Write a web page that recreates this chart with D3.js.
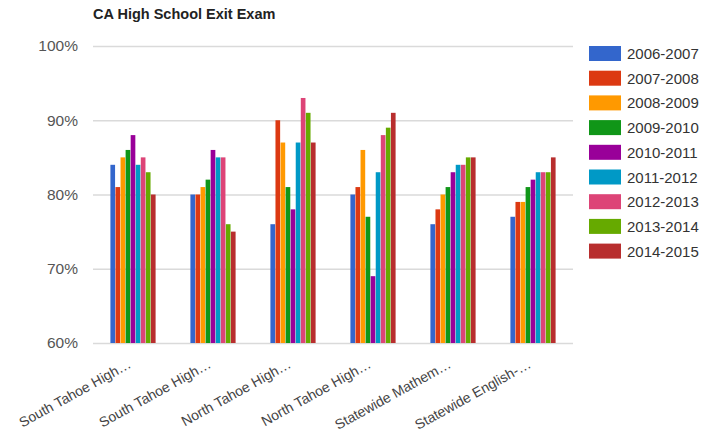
<!DOCTYPE html>
<html>
<head>
<meta charset="utf-8">
<script src="https://cdn.jsdelivr.net/npm/d3@7"></script>
<style>
  body { margin: 0; background: #fff; }
  text { font-family: Arial, "Liberation Sans", sans-serif; }
</style>
</head>
<body>
<div id="chart"></div>
<script>

var categories = ["South Tahoe High\u2026", "South Tahoe High\u2026", "North Tahoe High\u2026",
                  "North Tahoe High\u2026", "Statewide Mathem\u2026", "Statewide English-\u2026"];
var years = ["2006-2007", "2007-2008", "2008-2009", "2009-2010", "2010-2011",
             "2011-2012", "2012-2013", "2013-2014", "2014-2015"];
var colours = ["#3366cc", "#dc3912", "#ff9900", "#109618", "#990099",
               "#0099c6", "#dd4477", "#66aa00", "#b82e2e"];

// one row per category, one value per year (percent)
var values = [
    [84, 81, 85, 86, 88, 84, 85, 83, 80],
    [80, 80, 81, 82, 86, 85, 85, 76, 75],
    [76, 90, 87, 81, 78, 87, 93, 91, 87],
    [80, 81, 86, 77, 69, 83, 88, 89, 91],
    [76, 78, 80, 81, 83, 84, 84, 85, 85],
    [77, 79, 79, 81, 82, 83, 83, 83, 85]
];
var yTicks = [60, 70, 80, 90, 100];

var svgWidth = 708, svgHeight = 433;
var margin = {top: 46, right: 135, bottom: 90, left: 93};
var width = svgWidth - margin.left - margin.right;
var height = svgHeight - margin.top - margin.bottom;

var svg = d3.select("#chart").append("svg")
    .attr("width", svgWidth)
    .attr("height", svgHeight);

svg.append("text")
    .attr("x", 93)
    .attr("y", 19)
    .attr("font-size", "14.5px")
    .attr("font-weight", "bold")
    .attr("fill", "#222")
    .text("CA High School Exit Exam");

var plotArea = svg.append("g")
    .attr("transform", "translate(" + margin.left + "," + margin.top + ")");

var x0 = d3.scaleBand()
    .domain(d3.range(categories.length))
    .range([0, width])
    .paddingInner(0.425)
    .paddingOuter(0.2125);

var x1 = d3.scaleBand()
    .domain(d3.range(years.length))
    .range([0, x0.bandwidth()])
    .padding(0.08);

var yscale = d3.scaleLinear()
    .domain([60, 100])
    .range([height, 0]);

var yAxis = d3.axisLeft(yscale)
    .tickValues(yTicks)
    .tickSize(-width)
    .tickPadding(15)
    .tickFormat(d => d + "%");

var gY = plotArea.append("g")
    .attr("class", "axis--y")
    .call(yAxis);
gY.select(".domain").remove();
gY.selectAll(".tick line")
    .attr("stroke", "#dadada")
    .attr("stroke-width", 1.6);
gY.selectAll(".tick text")
    .attr("fill", "#555")
    .attr("font-size", "15.5px");

var groups = plotArea.selectAll(".group")
    .data(values)
    .enter()
    .append("g")
    .attr("class", "group")
    .attr("transform", (d, i) => "translate(" + x0(i) + ",0)");

groups.selectAll("rect")
    .data(d => d)
    .enter()
    .append("rect")
    .attr("x", (d, j) => x1(j))
    .attr("y", d => yscale(d))
    .attr("width", x1.bandwidth())
    .attr("height", d => height - yscale(d))
    .style("fill", (d, j) => colours[j]);

// rotated category labels
plotArea.selectAll(".xlabel")
    .data(categories)
    .enter()
    .append("text")
    .attr("class", "xlabel")
    .attr("text-anchor", "end")
    .attr("font-size", "14px")
    .attr("fill", "#444")
    .attr("transform", (d, i) => "translate(" + (x0(i) + x0.bandwidth() / 2 - 1) + "," + (height + 24) + ") rotate(-29)")
    .text(d => d);

var legend = svg.append("g")
    .attr("transform", "translate(589,46)");

var rows = legend.selectAll(".row")
    .data(years)
    .enter()
    .append("g")
    .attr("class", "row")
    .attr("transform", (d, i) => "translate(0," + (i * 24.7) + ")");

rows.append("rect")
    .attr("width", 32)
    .attr("height", 15)
    .style("fill", (d, i) => colours[i]);

rows.append("text")
    .attr("x", 38)
    .attr("y", 13)
    .attr("font-size", "15px")
    .attr("fill", "#333")
    .text(d => d);

</script>
</body>
</html>
